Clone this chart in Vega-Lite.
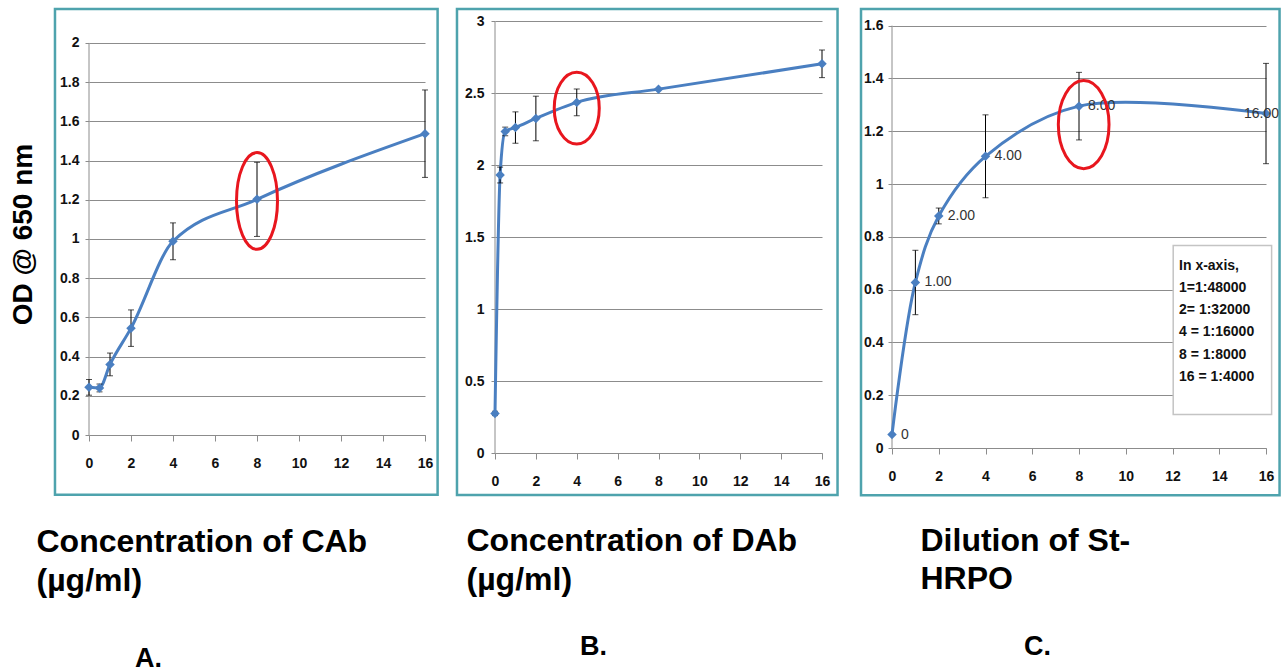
{
  "$schema": "https://vega.github.io/schema/vega-lite/v6.json",
  "background": "white",
  "padding": {"left": 9, "top": 7, "right": 0, "bottom": 0},
  "spacing": 70,
  "bounds": "flush",
  "config": {
    "view": {"stroke": null},
    "axis": {
      "labelFont": "Liberation Sans, Arial, sans-serif",
      "labelFontSize": 14,
      "labelFontWeight": "bold",
      "labelColor": "#111111",
      "labelFlush": false,
      "gridColor": "#8c8c8c",
      "domainColor": "#8c8c8c",
      "tickColor": "#8c8c8c",
      "titleFont": "Liberation Sans, Arial, sans-serif",
      "titleFontWeight": "bold",
      "titleColor": "#000000",
      "titleFontSize": 32
    },
    "title": {"font": "Liberation Sans, Arial, sans-serif", "fontWeight": "bold", "fontSize": 27, "color": "#000000"}
  },
  "hconcat": [
    {
      "width": 336,
      "height": 426,
      "title": {"text": "A.", "orient": "bottom", "anchor": "start", "frame": "group", "baseline": "alphabetic", "offset": 71, "dx": 46},
      "data": {"values": [
        {"x": 0, "y": 0.243, "err": 0.04},
        {"x": 0.5, "y": 0.24, "err": 0.02},
        {"x": 1, "y": 0.36, "err": 0.058},
        {"x": 2, "y": 0.545, "err": 0.093},
        {"x": 4, "y": 0.988, "err": 0.094},
        {"x": 8, "y": 1.202, "err": 0.189},
        {"x": 16, "y": 1.537, "err": 0.223}
      ]},
      "layer": [
        {
          "data": {"values": [{}]},
          "mark": {"type": "rect", "fill": "transparent", "stroke": "#4ea3ad", "strokeWidth": 2.5},
          "encoding": {
            "x": {"datum": -1.62, "type": "quantitative"},
            "x2": {"datum": 16.6},
            "y": {"datum": -0.305, "type": "quantitative"},
            "y2": {"datum": 2.173}
          }
        },
        {
          "data": {"values": [{}]},
          "mark": {"type": "rule", "color": "#8c8c8c"},
          "encoding": {
            "x": {"datum": 0, "type": "quantitative"},
            "y": {"datum": 0, "type": "quantitative"},
            "y2": {"datum": 2}
          }
        },
        {
          "mark": {"type": "line", "interpolate": "monotone", "color": "#4a7fc1", "strokeWidth": 3},
          "encoding": {
            "x": {"field": "x", "type": "quantitative", "scale": {"domain": [0, 16], "nice": false},
              "axis": {"values": [0, 2, 4, 6, 8, 10, 12, 14, 16], "grid": false, "tickSize": 6, "labelPadding": 15,
                "title": ["Concentration of CAb", "(µg/ml)"], "titleX": -53, "titleY": 116, "titleAlign": "left", "titleBaseline": "alphabetic", "titleLineHeight": 39.3}},
            "y": {"field": "y", "type": "quantitative", "scale": {"domain": [0, 2.173], "nice": false},
              "axis": {"values": [0, 0.2, 0.4, 0.6, 0.8, 1, 1.2, 1.4, 1.6, 1.8, 2], "format": "~g", "domain": false, "grid": true, "tickSize": 4, "labelPadding": 6,
                "title": "OD @ 650 nm", "titleFontSize": 28, "titleAngle": -90, "titleX": -66, "titleY": 225, "titleAlign": "center", "titleBaseline": "middle"}}
          }
        },
        {
          "transform": [{"filter": "datum.err > 0"}],
          "mark": {"type": "errorbar", "color": "#000000", "ticks": {"size": 6}},
          "encoding": {
            "x": {"field": "x", "type": "quantitative"},
            "y": {"field": "y", "type": "quantitative", "title": "OD @ 650 nm"},
            "yError": {"field": "err"}
          }
        },
        {
          "mark": {"type": "point", "shape": "diamond", "filled": true, "size": 90, "color": "#4a7fc1", "opacity": 1},
          "encoding": {
            "x": {"field": "x", "type": "quantitative"},
            "y": {"field": "y", "type": "quantitative"}
          }
        },
        {
          "data": {"values": [{}]},
          "mark": {"type": "point", "shape": "M -0.424 0 C -0.424 -0.5523 -0.234 -1 0 -1 C 0.234 -1 0.424 -0.5523 0.424 0 C 0.424 0.5523 0.234 1 0 1 C -0.234 1 -0.424 0.5523 -0.424 0 Z", "size": 9350, "filled": false, "stroke": "#e8161e", "strokeWidth": 3, "opacity": 1},
          "encoding": {
            "x": {"datum": 8, "type": "quantitative"},
            "y": {"datum": 1.194, "type": "quantitative"}
          }
        }
      ]
    },
    {
      "width": 327,
      "height": 444,
      "title": {"text": "B.", "orient": "bottom", "anchor": "start", "frame": "group", "baseline": "alphabetic", "offset": 60, "dx": 85},
      "data": {"values": [
        {"x": 0, "y": 0.275, "err": 0.015},
        {"x": 0.25, "y": 1.932, "err": 0.055},
        {"x": 0.5, "y": 2.235, "err": 0.03},
        {"x": 1, "y": 2.262, "err": 0.109},
        {"x": 2, "y": 2.325, "err": 0.155},
        {"x": 4, "y": 2.437, "err": 0.093},
        {"x": 8, "y": 2.529, "err": 0},
        {"x": 16, "y": 2.705, "err": 0.096}
      ]},
      "layer": [
        {
          "data": {"values": [{}]},
          "mark": {"type": "rect", "fill": "transparent", "stroke": "#4ea3ad", "strokeWidth": 2.5},
          "encoding": {
            "x": {"datum": -1.86, "type": "quantitative"},
            "x2": {"datum": 16.76},
            "y": {"datum": -0.292, "type": "quantitative"},
            "y2": {"datum": 3.086}
          }
        },
        {
          "data": {"values": [{}]},
          "mark": {"type": "rule", "color": "#8c8c8c"},
          "encoding": {
            "x": {"datum": 0, "type": "quantitative"},
            "y": {"datum": 0, "type": "quantitative"},
            "y2": {"datum": 3}
          }
        },
        {
          "mark": {"type": "line", "interpolate": "monotone", "color": "#4a7fc1", "strokeWidth": 3},
          "encoding": {
            "x": {"field": "x", "type": "quantitative", "scale": {"domain": [0, 16], "nice": false},
              "axis": {"values": [0, 2, 4, 6, 8, 10, 12, 14, 16], "grid": false, "tickSize": 6, "labelPadding": 15,
                "title": ["Concentration of DAb", "(µg/ml)"], "titleX": -29, "titleY": 97, "titleAlign": "left", "titleBaseline": "alphabetic", "titleLineHeight": 39.3}},
            "y": {"field": "y", "type": "quantitative", "scale": {"domain": [0, 3.086], "nice": false},
              "axis": {"values": [0, 0.5, 1, 1.5, 2, 2.5, 3], "format": "~g", "domain": false, "grid": true, "tickSize": 4, "labelPadding": 7, "title": null}}
          }
        },
        {
          "transform": [{"filter": "datum.err > 0"}],
          "mark": {"type": "errorbar", "color": "#000000", "ticks": {"size": 6}},
          "encoding": {
            "x": {"field": "x", "type": "quantitative"},
            "y": {"field": "y", "type": "quantitative"},
            "yError": {"field": "err"}
          }
        },
        {
          "mark": {"type": "point", "shape": "diamond", "filled": true, "size": 90, "color": "#4a7fc1", "opacity": 1},
          "encoding": {
            "x": {"field": "x", "type": "quantitative"},
            "y": {"field": "y", "type": "quantitative"}
          }
        },
        {
          "data": {"values": [{}]},
          "mark": {"type": "point", "shape": "M -0.628 0 C -0.628 -0.5523 -0.347 -1 0 -1 C 0.347 -1 0.628 -0.5523 0.628 0 C 0.628 0.5523 0.347 1 0 1 C -0.347 1 -0.628 0.5523 -0.628 0 Z", "size": 5141, "filled": false, "stroke": "#e8161e", "strokeWidth": 3, "opacity": 1},
          "encoding": {
            "x": {"datum": 4, "type": "quantitative"},
            "y": {"datum": 2.397, "type": "quantitative"}
          }
        }
      ]
    },
    {
      "width": 374,
      "height": 439,
      "title": {"text": "C.", "orient": "bottom", "anchor": "start", "frame": "group", "baseline": "alphabetic", "offset": 61, "dx": 132},
      "data": {"values": [
        {"x": 0, "y": 0.051, "err": 0, "label": "0"},
        {"x": 1, "y": 0.627, "err": 0.122, "label": "1.00"},
        {"x": 2, "y": 0.879, "err": 0.03, "label": "2.00"},
        {"x": 4, "y": 1.105, "err": 0.157, "label": "4.00"},
        {"x": 8, "y": 1.295, "err": 0.128, "label": "8.00"},
        {"x": 16, "y": 1.267, "err": 0.19, "label": "16.00"}
      ]},
      "layer": [
        {
          "data": {"values": [{}]},
          "mark": {"type": "rect", "fill": "transparent", "stroke": "#4ea3ad", "strokeWidth": 2.5},
          "encoding": {
            "x": {"datum": -1.326, "type": "quantitative"},
            "x2": {"datum": 16.58},
            "y": {"datum": -0.179, "type": "quantitative"},
            "y2": {"datum": 1.663}
          }
        },
        {
          "data": {"values": [{}]},
          "mark": {"type": "rule", "color": "#8c8c8c"},
          "encoding": {
            "x": {"datum": 0, "type": "quantitative"},
            "y": {"datum": 0, "type": "quantitative"},
            "y2": {"datum": 1.6}
          }
        },
        {
          "mark": {"type": "line", "interpolate": "catmull-rom", "color": "#4a7fc1", "strokeWidth": 3},
          "encoding": {
            "x": {"field": "x", "type": "quantitative", "scale": {"domain": [0, 16], "nice": false},
              "axis": {"values": [0, 2, 4, 6, 8, 10, 12, 14, 16], "grid": false, "tickSize": 6, "labelPadding": 15,
                "title": ["Dilution of St-", "HRPO"], "titleX": 28, "titleY": 102, "titleAlign": "left", "titleBaseline": "alphabetic", "titleLineHeight": 38.3}},
            "y": {"field": "y", "type": "quantitative", "scale": {"domain": [0, 1.663], "nice": false},
              "axis": {"values": [0, 0.2, 0.4, 0.6, 0.8, 1, 1.2, 1.4, 1.6], "format": "~g", "domain": false, "grid": true, "tickSize": 4, "labelPadding": 5, "title": null}}
          }
        },
        {
          "transform": [{"filter": "datum.err > 0"}],
          "mark": {"type": "errorbar", "color": "#000000", "ticks": {"size": 6}},
          "encoding": {
            "x": {"field": "x", "type": "quantitative"},
            "y": {"field": "y", "type": "quantitative"},
            "yError": {"field": "err"}
          }
        },
        {
          "mark": {"type": "point", "shape": "diamond", "filled": true, "size": 90, "color": "#4a7fc1", "opacity": 1},
          "encoding": {
            "x": {"field": "x", "type": "quantitative"},
            "y": {"field": "y", "type": "quantitative"}
          }
        },
        {
          "transform": [{"filter": "datum.x < 16"}],
          "mark": {"type": "text", "align": "left", "baseline": "middle", "dx": 9, "font": "Liberation Sans, Arial, sans-serif", "fontSize": 14, "color": "#333333"},
          "encoding": {
            "x": {"field": "x", "type": "quantitative"},
            "y": {"field": "y", "type": "quantitative"},
            "text": {"field": "label"}
          }
        },
        {
          "transform": [{"filter": "datum.x == 16"}],
          "mark": {"type": "text", "align": "right", "baseline": "middle", "dx": 13, "font": "Liberation Sans, Arial, sans-serif", "fontSize": 14, "color": "#333333"},
          "encoding": {
            "x": {"field": "x", "type": "quantitative"},
            "y": {"field": "y", "type": "quantitative"},
            "text": {"field": "label"}
          }
        },
        {
          "data": {"values": [{}]},
          "mark": {"type": "rect", "fill": "white", "stroke": "#c4c4c4", "strokeWidth": 1.5},
          "encoding": {
            "x": {"datum": 12.03, "type": "quantitative"},
            "x2": {"datum": 16.24},
            "y": {"datum": 0.127, "type": "quantitative"},
            "y2": {"datum": 0.767}
          }
        },
        {
          "data": {"values": [{}]},
          "mark": {"type": "text", "align": "left", "baseline": "alphabetic", "lineHeight": 22.3, "font": "Liberation Sans, Arial, sans-serif", "fontSize": 14, "fontWeight": "bold", "color": "#111111"},
          "encoding": {
            "x": {"datum": 12.28, "type": "quantitative"},
            "y": {"datum": 0.676, "type": "quantitative"},
            "text": {"value": ["In x-axis,", "1=1:48000", "2= 1:32000", "4 = 1:16000", "8 = 1:8000", "16 = 1:4000"]}
          }
        },
        {
          "data": {"values": [{}]},
          "mark": {"type": "point", "shape": "M -0.574 0 C -0.574 -0.5523 -0.317 -1 0 -1 C 0.317 -1 0.574 -0.5523 0.574 0 C 0.574 0.5523 0.317 1 0 1 C -0.317 1 -0.574 0.5523 -0.574 0 Z", "size": 7797, "filled": false, "stroke": "#e8161e", "strokeWidth": 3, "opacity": 1},
          "encoding": {
            "x": {"datum": 8.2, "type": "quantitative"},
            "y": {"datum": 1.225, "type": "quantitative"}
          }
        }
      ]
    }
  ]
}
